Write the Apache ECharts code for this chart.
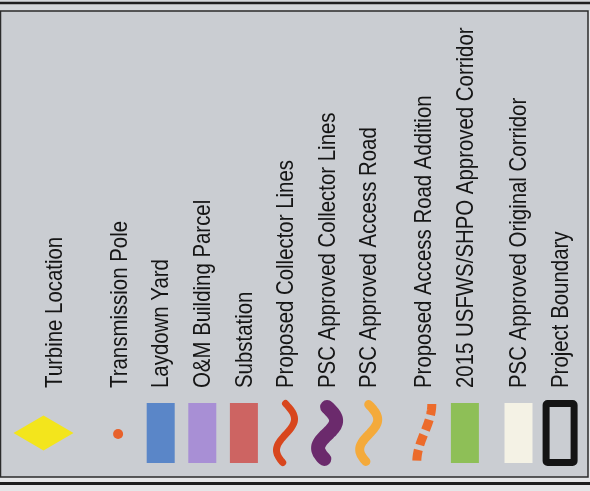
<!DOCTYPE html>
<html>
<head>
<meta charset="utf-8">
<title>Legend</title>
<script src="https://cdn.jsdelivr.net/npm/echarts@6/dist/echarts.min.js"></script>
<style>
  html, body { margin: 0; padding: 0; background: #e5e6e8; }
  #main { width: 590px; height: 491px; }
</style>
</head>
<body>
<div id="main"></div>
<script>
// legend entries, left to right
let legendLabels = [
  'Turbine Location',
  'Transmission Pole',
  'Laydown Yard',
  'O&M Building Parcel',
  'Substation',
  'Proposed Collector Lines',
  'PSC Approved Collector Lines',
  'PSC Approved Access Road',
  'Proposed Access Road Addition',
  '2015 USFWS/SHPO Approved Corridor',
  'PSC Approved Original Corridor',
  'Project Boundary'
];
// which kind of swatch each entry uses
let swatchKinds = [
  'diamond', 'dot', 'patch', 'patch', 'patch',
  'wave', 'wave', 'wave', 'dashwave',
  'patch', 'patch', 'outline'
];

// ---- styles / layout (not data) ----
let swatchColors = [
  '#f3e51c', '#e8612b', '#5a86c8', '#a88fd5', '#cd6462',
  '#d8461d', '#6b2a6c', '#f4aa3b', '#ec6b2b',
  '#8ebf57', '#f4f2e5', '#141414'
];
let waveWidth = { 5: 7, 6: 14, 7: 9, 8: 8 };
// extra px of space before some columns (legend grouping gaps)
let extraGap = [0, 23, 0, 0, 0, 0, 0, 0, 13, 0, 12, 0];
let colShift = [];
extraGap.reduce(function (acc, g, i) { colShift[i] = acc + g; return acc + g; }, 0);

// no narrow face installed -> squeeze a regular one along the text direction
let FONT = "24px 'Liberation Sans', Arial, sans-serif";
let TEXT_SQUEEZE = 0.85;

function wavePath(cx, top, h, amp, turns) {
  let pts = [];
  let n = 40;
  for (let k = 0; k <= n; k++) {
    let t = k / n;
    pts.push([cx + amp * Math.sin(2 * Math.PI * t * turns), top + t * h]);
  }
  return pts;
}

// half-wave step: crest at the top, trough at the bottom
function stepPath(cx, top, h, amp) {
  let pts = [];
  let n = 40;
  for (let k = 0; k <= n; k++) {
    let t = k / n;
    pts.push([cx + amp * Math.cos(Math.PI * t), top + t * h]);
  }
  return pts;
}

function renderItem(params, api) {
  let i = api.value(0);
  let cs = params.coordSys;
  let bottom = cs.y + cs.height;
  let col = api.coord([i, 0])[0] + colShift[i];
  let sx = col - 1;
  let sy = bottom - 44;
  let kind = swatchKinds[i];
  let color = swatchColors[i];
  let kids = [];

  if (kind === 'diamond') {
    sx = col - 12;
    kids.push({
      type: 'polygon',
      shape: { points: [[sx - 30, sy], [sx, sy - 17.5], [sx + 30, sy], [sx, sy + 17.5]] },
      style: { fill: color }
    });
  } else if (kind === 'dot') {
    kids.push({ type: 'circle', shape: { cx: sx - 1, cy: sy + 1, r: 5 }, style: { fill: color } });
  } else if (kind === 'patch') {
    kids.push({ type: 'rect', shape: { x: sx - 14, y: sy - 30, width: 28, height: 60 }, style: { fill: color } });
  } else if (kind === 'outline') {
    kids.push({
      type: 'rect',
      shape: { x: sx - 14, y: sy - 29.5, width: 28, height: 59, r: 1.5 },
      style: { fill: 'none', stroke: color, lineWidth: 7 }
    });
  } else if (kind === 'wave') {
    let lw = waveWidth[i] || 8;
    kids.push({
      type: 'polyline',
      shape: { points: wavePath(sx, sy - 33 + lw / 2, 66 - lw, 9, 0.95), smooth: 0.3 },
      style: { fill: 'none', stroke: color, lineWidth: lw, lineCap: 'round' }
    });
  } else if (kind === 'dashwave') {
    kids.push({
      type: 'polyline',
      shape: { points: stepPath(sx + 1, sy - 29, 58, 7.5) },
      style: { fill: 'none', stroke: color, lineWidth: 9, lineCap: 'butt', lineDash: [11, 5] }
    });
  }

  kids.push({
    type: 'text',
    x: col,
    y: bottom - 89,
    rotation: Math.PI / 2,
    scaleX: TEXT_SQUEEZE,
    style: {
      text: legendLabels[i],
      font: FONT,
      fill: '#151515',
      align: 'left',
      verticalAlign: 'middle'
    }
  });
  return { type: 'group', children: kids };
}

let chart = echarts.init(document.getElementById('main'), null, { renderer: 'canvas' });

let option = {
  animation: false,
  backgroundColor: '#e5e6e8',
  graphic: [
    { type: 'rect', z: -10, shape: { x: 0, y: 0, width: 590, height: 11 }, style: { fill: '#d4d7da' } },
    { type: 'rect', z: -9, shape: { x: 0.5, y: 11, width: 587.5, height: 466 },
      style: { fill: '#cacdd2', stroke: '#2b2b2b', lineWidth: 1.5 } },
    { type: 'line', z: -8, shape: { x1: 0, y1: 3, x2: 590, y2: 3 }, style: { stroke: '#1e1e1e', lineWidth: 2.5 } },
    { type: 'line', z: -8, shape: { x1: 0, y1: 483.5, x2: 590, y2: 483.5 }, style: { stroke: '#1e1e1e', lineWidth: 3 } }
  ],
  grid: { left: 34.7, width: 499.2, top: 11, bottom: 14 },
  xAxis: {
    type: 'category',
    data: legendLabels,
    show: false
  },
  yAxis: { type: 'value', min: 0, max: 1, show: false },
  series: [{
    type: 'custom',
    renderItem: renderItem,
    clip: false,
    data: legendLabels.map(function (name, i) { return [i]; })
  }]
};

chart.setOption(option);
</script>
</body>
</html>
